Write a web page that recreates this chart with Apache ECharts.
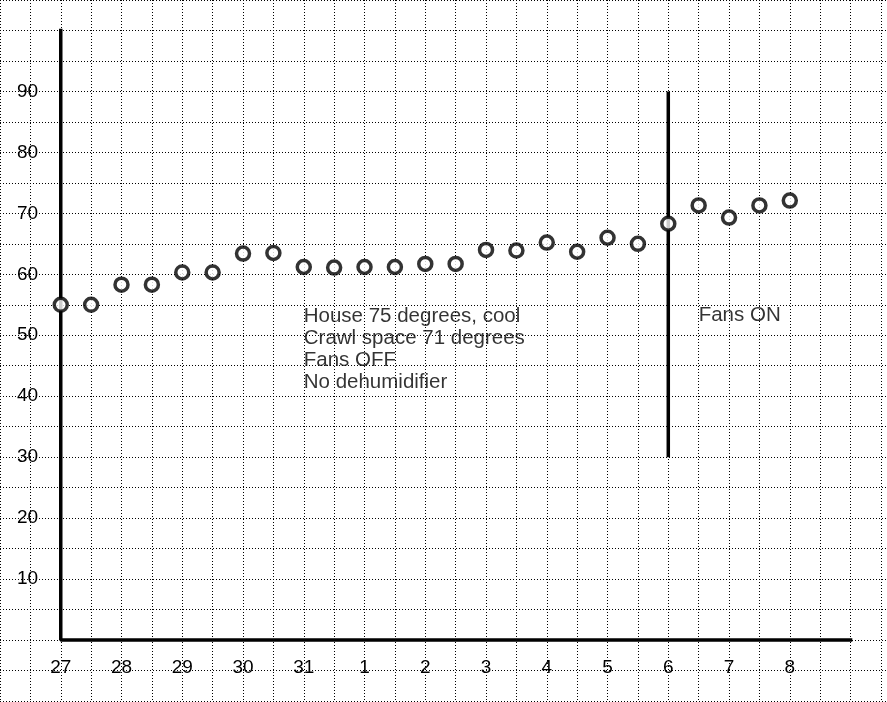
<!DOCTYPE html>
<html>
<head>
<meta charset="utf-8">
<script src="https://cdn.jsdelivr.net/npm/echarts@6/dist/echarts.min.js"></script>
<style>
  html, body { margin: 0; padding: 0; background: #fff; }
  #chart { width: 887px; height: 702px; }
</style>
</head>
<body>
<div id="chart"></div>
<script>
// day labels, one per full step; points are taken every half day
const days = ['27', '28', '29', '30', '31', '1', '2', '3', '4', '5', '6', '7', '8'];
const readings = [55.0, 55.0, 58.3, 58.3, 60.3, 60.3, 63.4, 63.5, 61.2, 61.1, 61.2, 61.2,
  61.7, 61.7, 64.0, 63.9, 65.2, 63.7, 66.0, 65.0, 68.3, 71.3, 69.3, 71.3, 72.1];
const yLabels = [10, 20, 30, 40, 50, 60, 70, 80, 90];

// frame drawn by hand in the original: y axis up to 100, x axis out to index 26
const frameLine = [[0, 100], [0, 0], [26, 0]];
const fansOnLine = [[20, 30], [20, 90]];
const notes = [
  { at: [8, 54.9], text: 'House 75 degrees, cool\nCrawl space 71 degrees\nFans OFF\nNo dehumidifier' },
  { at: [21, 55.1], text: 'Fans ON' }
];

const chart = echarts.init(document.getElementById('chart'));
const font = '"Liberation Sans", Arial, sans-serif';
const dotted = { color: '#000', width: 1, type: [1, 2] };

chart.setOption({
  animation: false,
  backgroundColor: '#fff',
  grid: { left: 0, right: 0, top: 0, bottom: 1, containLabel: false, outerBoundsMode: 'none' },
  xAxis: {
    type: 'value', min: -2, max: 27.2, interval: 1,
    axisLine: { show: false }, axisTick: { show: false },
    splitLine: { show: true, lineStyle: dotted },
    axisLabel: {
      inside: true, margin: 24, fontSize: 19, color: '#000', fontFamily: font,
      formatter: (v) => (v >= 0 && v % 2 === 0 && days[v / 2]) ? days[v / 2] : ''
    }
  },
  yAxis: {
    type: 'value', min: -10, max: 105, interval: 5,
    axisLine: { show: false }, axisTick: { show: false },
    splitLine: { show: true, lineStyle: dotted },
    axisLabel: {
      inside: true, margin: 17, fontSize: 19, color: '#000', fontFamily: font,
      formatter: (v) => yLabels.includes(v) ? String(v) : ''
    }
  },
  series: [
    {
      type: 'line', data: frameLine, symbol: 'none', silent: true,
      lineStyle: { color: '#000', width: 3.5, cap: 'square' }
    },
    {
      type: 'line', data: fansOnLine, symbol: 'none', silent: true,
      lineStyle: { color: '#000', width: 3.5 }
    },
    {
      type: 'scatter', z: 5,
      data: readings.map((v, i) => [i, v]),
      symbol: 'circle', symbolSize: 13,
      itemStyle: { color: '#fff', borderColor: '#000', borderWidth: 3.5 }
    },
    {
      type: 'scatter', silent: true,
      data: notes.map((n) => ({ value: n.at, text: n.text })),
      symbolSize: 0,
      label: {
        show: true, position: 'right', distance: 0, align: 'left', verticalAlign: 'top',
        fontSize: 20.5, lineHeight: 22, color: '#000', fontFamily: font,
        formatter: (p) => p.data.text
      }
    }
  ]
});
</script>
</body>
</html>
